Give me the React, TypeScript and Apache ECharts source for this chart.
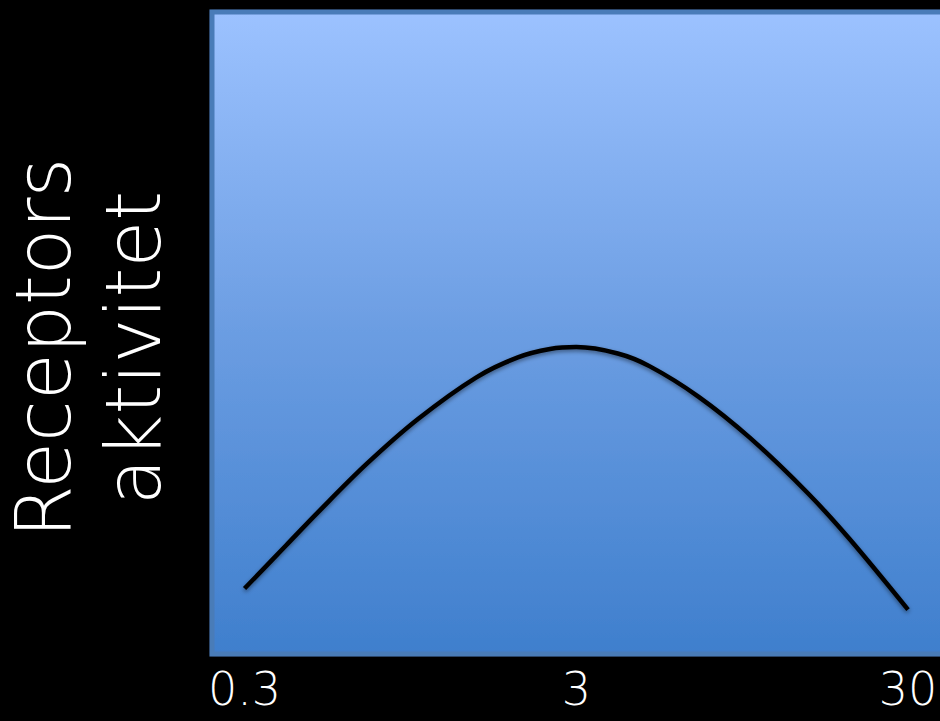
import React, { useEffect, useRef } from "react";
import * as echarts from "echarts";

// Dose values (log scale) and receptor activity
const doses = [0.3, 0.4, 0.5, 0.7, 1, 1.5, 2, 2.5, 3, 4, 5, 7, 10, 15, 20, 30];
const activity = [10.2, 16.9, 22.1, 29.6, 36.6, 43.1, 46.2, 47.5, 47.8, 46.8, 44.8, 40.1, 33.7, 25.0, 17.9, 6.9];
const tickValues = [0.3, 3, 30];
const tickLabels = ["0.3", "3", "30"];
const yAxisName = "Receptors\naktivitet";

const FONT = "DejaVu Sans";

export default function App() {
  const ref = useRef<HTMLDivElement>(null);
  useEffect(() => {
    if (!ref.current) return;
    const chart = echarts.init(ref.current, undefined, { renderer: "svg" });
    const lg = (v: number) => Math.log10(v);
    chart.setOption({
      animation: false,
      backgroundColor: "#000000",
      grid: {
        show: true,
        left: 212,
        top: 12,
        width: 760,
        height: 642,
        outerBoundsMode: "none",
        containLabel: false,
        borderColor: "#4a7bb8",
        borderWidth: 5,
        backgroundColor: new echarts.graphic.LinearGradient(0, 0, 0, 1, [
          { offset: 0, color: "#9cc2ff" },
          { offset: 0.5, color: "#6b9de2" },
          { offset: 1, color: "#3f7fcd" },
        ]),
        shadowBlur: 6,
        shadowColor: "rgba(0,0,0,0.6)",
      },
      xAxis: {
        type: "value",
        min: -0.621,
        max: 1.67,
        axisLine: { show: false },
        axisTick: { show: false },
        splitLine: { show: false },
        axisLabel: {
          customValues: tickValues.map(lg),
          color: "#ffffff",
          fontFamily: FONT,
          fontWeight: 200,
          fontSize: 46,
          margin: 12,
          formatter: (v: number) => {
            let best = 0;
            tickValues.forEach((t, i) => {
              if (Math.abs(lg(t) - v) < Math.abs(lg(tickValues[best]) - v)) best = i;
            });
            return tickLabels[best];
          },
        },
      },
      yAxis: {
        type: "value",
        min: 0,
        max: 100,
        axisLine: { show: false },
        axisTick: { show: false },
        axisLabel: { show: false },
        splitLine: { show: false },
        name: yAxisName,
        nameLocation: "middle",
        nameGap: 34,
        nameRotate: 90,
        nameTextStyle: {
          color: "#ffffff",
          fontFamily: FONT,
          fontWeight: 200,
          fontSize: 76,
          lineHeight: 90,
          padding: [0, 30, 0, 0],
        },
      },
      series: [
        {
          type: "line",
          data: doses.map((d, i) => [lg(d), activity[i]]),
          smooth: 0.35,
          showSymbol: false,
          symbol: "none",
          lineStyle: {
            color: "#000000",
            width: 4.5,
            shadowBlur: 4,
            shadowColor: "rgba(0,0,0,0.45)",
            shadowOffsetY: 2,
          },
        },
      ],
    });
    return () => chart.dispose();
  }, []);
  return (
    <div
      ref={ref}
      style={{ position: "fixed", left: 0, top: 0, width: 940, height: 721, background: "#000" }}
    />
  );
}
